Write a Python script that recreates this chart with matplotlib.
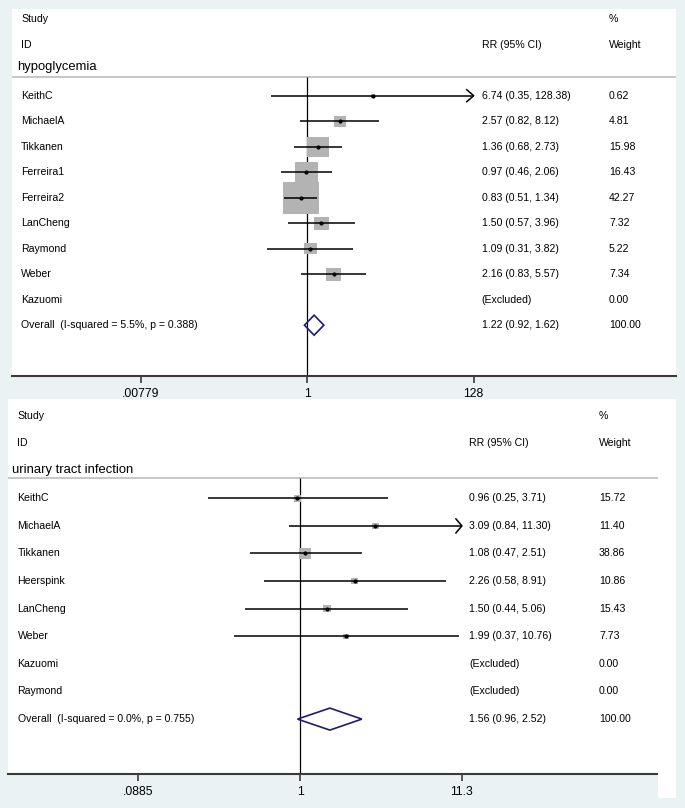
import numpy as np
import matplotlib
matplotlib.use("Agg")
import matplotlib.pyplot as plt
from matplotlib import transforms
from matplotlib.path import Path
from matplotlib.patches import Polygon, Rectangle

plt.rcParams['font.family'] = ['Liberation Sans', 'DejaVu Sans']

# ---------------- data ----------------
studies1 = ["KeithC", "MichaelA", "Tikkanen", "Ferreira1", "Ferreira2",
            "LanCheng", "Raymond", "Weber", "Kazuomi"]
rr1 = [6.74, 2.57, 1.36, 0.97, 0.83, 1.50, 1.09, 2.16, np.nan]
lo1 = [0.35, 0.82, 0.68, 0.46, 0.51, 0.57, 0.31, 0.83, np.nan]
hi1 = [128.38, 8.12, 2.73, 2.06, 1.34, 3.96, 3.82, 5.57, np.nan]
w1 = [0.62, 4.81, 15.98, 16.43, 42.27, 7.32, 5.22, 7.34, 0.00]
overall1 = [1.22, 0.92, 1.62]
overall_label1 = "Overall  (I-squared = 5.5%, p = 0.388)"
heading1 = "hypoglycemia"
ticks1 = [0.00779, 1, 128]
ticklabels1 = [".00779", "1", "128"]

studies2 = ["KeithC", "MichaelA", "Tikkanen", "Heerspink", "LanCheng",
            "Weber", "Kazuomi", "Raymond"]
rr2 = [0.96, 3.09, 1.08, 2.26, 1.50, 1.99, np.nan, np.nan]
lo2 = [0.25, 0.84, 0.47, 0.58, 0.44, 0.37, np.nan, np.nan]
hi2 = [3.71, 11.30, 2.51, 8.91, 5.06, 10.76, np.nan, np.nan]
w2 = [15.72, 11.40, 38.86, 10.86, 15.43, 7.73, 0.00, 0.00]
overall2 = [1.56, 0.96, 2.52]
overall_label2 = "Overall  (I-squared = 0.0%, p = 0.755)"
heading2 = "urinary tract infection"
ticks2 = [0.0885, 1, 11.3]
ticklabels2 = [".0885", "1", "11.3"]

# ---------------- styling ----------------
W, H, DPI = 685, 808, 100
BG = "#eaf2f3"
BOX = "#b3b3b3"
DIAM = "#1c1c74"
SEP = "#c6c6c6"
AXC = "#3a3a3a"
FS = 7.6
FS_HEAD = 9.4
FS_TICK = 8.8

fig = plt.figure(figsize=(W / DPI, H / DPI), dpi=DPI, facecolor=BG)


def px_rect(x0, y0, x1, y1):
    return [x0 / W, 1 - y1 / H, (x1 - x0) / W, (y1 - y0) / H]


# rectangle marker (slightly flatter than square, as in the reference)
rect_marker = Path([(-1, -0.88), (1, -0.88), (1, 0.88), (-1, 0.88), (-1, -0.88)],
                   [Path.MOVETO, Path.LINETO, Path.LINETO, Path.LINETO, Path.CLOSEPOLY])


def panel(box, one_px, px_per_ln, row0_px, row_step, hdr_px, label_px, head_px,
          rr_px, wt_px, studies, rr, lo, hi, w, overall, overall_label, heading,
          ticks, ticklabels, box_scale, diam_half_px, arrow_w, arrow_h):
    x0, y0, x1, y1 = box
    ax = fig.add_axes(px_rect(x0, y0, x1, y1))
    ax.set_facecolor("white")
    ax.set_xscale("log")
    ax.set_xlim(np.exp((x0 - one_px) / px_per_ln), np.exp((x1 - one_px) / px_per_ln))
    to_row = lambda ypx: (ypx - row0_px) / row_step
    ax.set_ylim(to_row(y1), to_row(y0))

    for s in ["top", "left", "right"]:
        ax.spines[s].set_visible(False)
    ax.spines["bottom"].set_color(AXC)
    ax.spines["bottom"].set_linewidth(1.5)
    ax.set_yticks([])
    ax.set_xticks(ticks)
    ax.set_xticklabels(ticklabels, fontsize=FS_TICK)
    ax.xaxis.set_minor_locator(matplotlib.ticker.NullLocator())
    ax.tick_params(axis="x", length=5, width=1.2, color=AXC, pad=3.5)

    tr = transforms.blended_transform_factory(ax.transAxes, ax.transData)
    fx = lambda xpx: (xpx - x0) / (x1 - x0)

    # headers
    ax.text(fx(label_px), to_row(hdr_px[0]), "Study", fontsize=FS, va="center", transform=tr)
    ax.text(fx(label_px), to_row(hdr_px[1]), "ID", fontsize=FS, va="center", transform=tr)
    ax.text(fx(wt_px), to_row(hdr_px[0]), "%", fontsize=FS, va="center", transform=tr)
    ax.text(fx(rr_px), to_row(hdr_px[1]), "RR (95% CI)", fontsize=FS, va="center", transform=tr)
    ax.text(fx(wt_px), to_row(hdr_px[1]), "Weight", fontsize=FS, va="center", transform=tr)
    ax.text(fx(head_px), to_row(hdr_px[2]), heading, fontsize=FS_HEAD, va="center", transform=tr)
    sep_row = to_row(hdr_px[3])
    ax.axhline(sep_row, color=SEP, lw=1.4)

    # null line
    ax.vlines(1, sep_row, to_row(y1), color="black", lw=0.9, zorder=2)

    rows = np.arange(len(studies))
    rr = np.array(rr); lo = np.array(lo); hi = np.array(hi); w = np.array(w)
    xmax_tick = max(ticks)
    valid = ~np.isnan(rr)

    # boxes
    side_pt = box_scale * np.sqrt(w[valid]) * 72 / DPI
    ax.scatter(rr[valid], rows[valid], s=side_pt ** 2, marker=rect_marker,
               color=BOX, linewidths=0, zorder=3)
    # CI lines
    for r, l, h, e in zip(rows[valid], lo[valid], hi[valid], rr[valid]):
        arrow = h >= xmax_tick
        hh = min(h, xmax_tick)
        ax.plot([l, hh], [r, r], color="black", lw=1.1, zorder=4, solid_capstyle="butt")
        if arrow:
            xa = hh * np.exp(-arrow_w / px_per_ln)
            dy = arrow_h / row_step
            ax.plot([xa, hh, xa], [r - dy, r, r + dy], color="black", lw=1.1, zorder=4)
    ax.scatter(rr[valid], rows[valid], s=9, color="black", zorder=5, linewidths=0)

    # texts per study
    for r, name, e, l, h, ww in zip(rows, studies, rr, lo, hi, w):
        ax.text(fx(label_px), r, name, fontsize=FS, va="center", transform=tr)
        s = "(Excluded)" if np.isnan(e) else f"{e:.2f} ({l:.2f}, {h:.2f})"
        ax.text(fx(rr_px), r, s, fontsize=FS, va="center", transform=tr)
        ax.text(fx(wt_px), r, f"{ww:.2f}", fontsize=FS, va="center", transform=tr)

    # overall
    ro = len(studies)
    e, l, h = overall
    dh = diam_half_px / row_step
    ax.add_patch(Polygon([(l, ro), (e, ro - dh), (h, ro), (e, ro + dh)], closed=True,
                         fill=False, edgecolor=DIAM, lw=1.2, zorder=5))
    ax.text(fx(label_px), ro, overall_label, fontsize=FS, va="center", transform=tr)
    ax.text(fx(rr_px), ro, f"{e:.2f} ({l:.2f}, {h:.2f})", fontsize=FS, va="center", transform=tr)
    ax.text(fx(wt_px), ro, "100.00", fontsize=FS, va="center", transform=tr)
    return ax


# extra white strip at right of lower panel
fig.patches.append(Rectangle((658 / W, 1 - 798 / H), 18 / W, (798 - 399) / H,
                             transform=fig.transFigure, facecolor="white",
                             edgecolor="none", zorder=0))

panel((12, 9, 676, 376), 307.3, 34.3, 95.7, 25.5, (19, 45, 67, 77), 21, 17, 481.5, 609,
      studies1, rr1, lo1, hi1, w1, overall1, overall_label1, heading1,
      ticks1, ticklabels1, 5.6, 10, 7, 6)

panel((8, 399, 658, 774), 300.2, 66.7, 498.3, 27.6, (416, 443, 470, 478), 17.5, 12, 469, 599,
      studies2, rr2, lo2, hi2, w2, overall2, overall_label2, heading2,
      ticks2, ticklabels2, 1.95, 11, 6, 7)

fig.savefig("out.png", dpi=DPI, facecolor=BG)
